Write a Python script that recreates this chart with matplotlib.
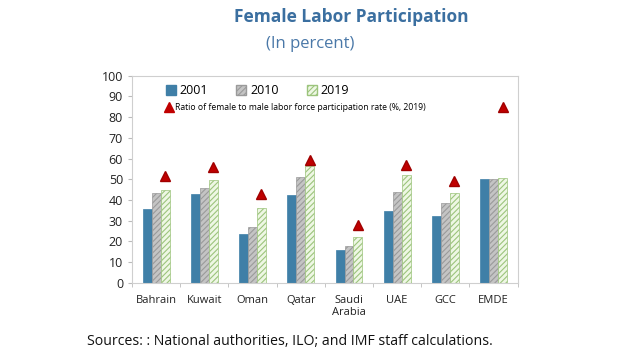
import matplotlib
matplotlib.use("Agg")
import matplotlib.pyplot as plt
import numpy as np
from matplotlib.patches import Patch
from matplotlib.lines import Line2D

plt.rcParams['font.family'] = ['Open Sans', 'DejaVu Sans']
plt.rcParams['hatch.linewidth'] = 0.8

countries = ["Bahrain", "Kuwait", "Oman", "Qatar", "Saudi\nArabia", "UAE", "GCC", "EMDE"]
flp_2001 = [35.5, 43, 23.5, 42.5, 16, 34.5, 32.5, 50]
flp_2010 = [43.5, 46, 27, 51, 18, 44, 38.5, 50]
flp_2019 = [45, 49.5, 36, 56.5, 22, 52, 43.5, 50.5]
ratio_2019 = [51.5, 56, 43, 59.5, 28, 57, 49, 85]

fig = plt.figure(figsize=(6.2, 3.55), dpi=100)
ax = fig.add_axes([0.213, 0.203, 0.622, 0.584])

x = np.arange(len(countries))
w = 0.185

ax.bar(x - w, flp_2001, w, color="#3f7fa7", edgecolor="#3f7fa7", linewidth=0.5, label="2001")
ax.bar(x, flp_2010, w, color="#c4c4c4", edgecolor="#9a9a9a", hatch="//////", linewidth=0.5, label="2010")
ax.bar(x + w, flp_2019, w, color="#eef7e4", edgecolor="#9cc47c", hatch="//////", linewidth=0.5, label="2019")
ax.plot(x + w, ratio_2019, linestyle="none", marker="^", markersize=7,
        color="#c00000", markeredgecolor="#a00000")

ax.set_xlim(-0.5, len(countries) - 0.5)
ax.set_ylim(0, 100)
ax.set_yticks(range(0, 101, 10))
ax.set_xticks(x)
ax.set_xticklabels(countries, fontsize=8, color="#222222", linespacing=1.1)
ax.set_xticks(np.arange(-0.5, len(countries), 1), minor=True)
ax.tick_params(axis="x", which="major", length=0, pad=9)
ax.tick_params(axis="x", which="minor", length=3, color="#bbbbbb")
ax.tick_params(axis="y", labelsize=9, colors="#222222", length=3, color="#bbbbbb")
for s in ax.spines.values():
    s.set_color("#cfcfcf")
    s.set_linewidth(0.8)

bar_handles = [
    Patch(facecolor="#3f7fa7", edgecolor="#3f7fa7", label="2001"),
    Patch(facecolor="#c4c4c4", edgecolor="#9a9a9a", hatch="//////", label="2010"),
    Patch(facecolor="#eef7e4", edgecolor="#9cc47c", hatch="//////", label="2019"),
]
leg1 = ax.legend(handles=bar_handles, ncol=3, loc="upper left", bbox_to_anchor=(0.065, 1.0),
                 frameon=False, fontsize=9, handlelength=0.8, handleheight=0.8,
                 handletextpad=0.3, columnspacing=2.25, borderaxespad=0.3)
ax.add_artist(leg1)
tri = Line2D([], [], linestyle="none", marker="^", markersize=7, color="#c00000",
             label="Ratio of female to male labor force participation rate (%, 2019)")
ax.legend(handles=[tri], loc="upper left", bbox_to_anchor=(0.07, 0.895), frameon=False,
          fontsize=6.2, handlelength=1.0, handletextpad=0.2, borderaxespad=0.3)

fig.text(0.566, 0.953, "Female Labor Participation", ha="center", va="center",
         fontsize=12.5, fontweight="bold", color="#3b6fa0")
fig.text(0.5, 0.877, "(In percent)", ha="center", va="center",
         fontsize=12, color="#4a78a8")
fig.text(0.14, 0.037, "Sources: : National authorities, ILO; and IMF staff calculations.",
         ha="left", va="center", fontsize=10.2, color="#111111")

fig.savefig("out.png", dpi=100)
